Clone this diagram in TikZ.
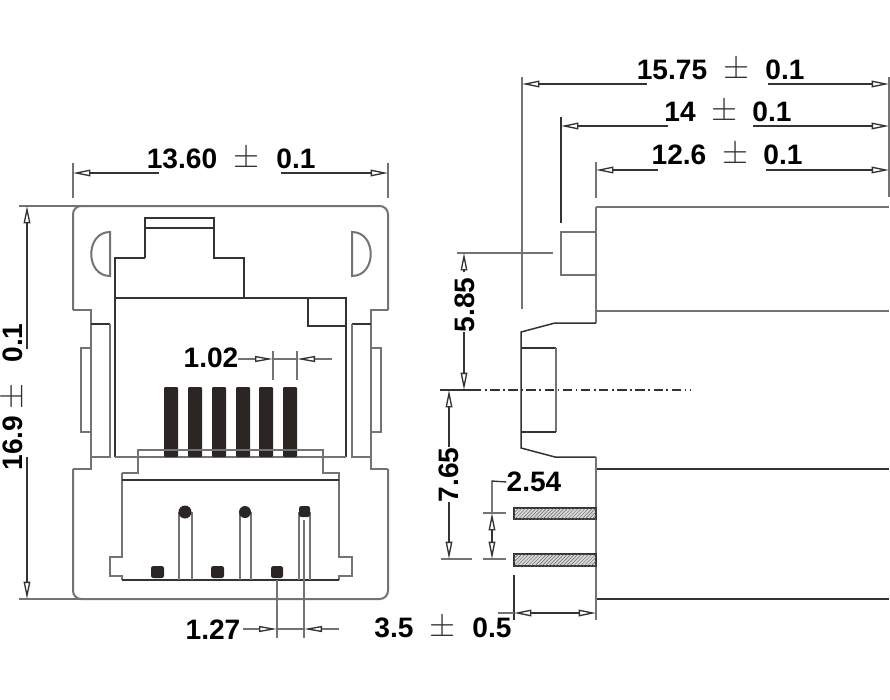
\documentclass[tikz,border=0pt]{standalone}
\usepackage{fontspec}
\setmainfont{Liberation Sans}
\usetikzlibrary{arrows.meta,patterns}
\definecolor{pinblack}{HTML}{2B2523}
\tikzset{
  bodyline/.style={draw=black!55, line width=0.6mm},
  plugline/.style={draw=black!80, line width=0.45mm},
  extline/.style={draw=black!55, line width=0.55mm},
  dimline/.style={draw=black!80, line width=0.4mm},
  dimarrow/.style={dimline, -{Triangle[open,length=5.2mm,width=2mm]}},
  shortarrow/.style={dimline, -{Triangle[open,length=5.4mm,width=1.8mm]}},
  dimtext/.style={inner sep=0pt, text=black, font=\fontsize{24}{24}\selectfont\bfseries},
  pmtext/.style={inner sep=0pt, text=black!80, scale=1.15, font=\fontsize{25}{25}\selectfont},
  pinbar/.style={fill=pinblack, draw=none, rounded corners=1pt},
  pinhatch/.style={fill=gray!30, draw=black!80, line width=0.35mm, postaction={pattern=north east lines, pattern color=black!60}}
}
\begin{document}
\begin{tikzpicture}[x=0.03cm, y=-0.03cm]
  \useasboundingbox (0,0) rectangle (890,700);

  \draw[bodyline, rounded corners=7pt] (73,310) -- (73,206) -- (388,206) -- (388,310);
  \draw[bodyline] (73,310) -- (91,310) -- (91,469) -- (73,469);
  \draw[bodyline] (388,310) -- (371,310) -- (371,469) -- (388,469);
  \draw[bodyline, rounded corners=7pt] (388,469) -- (388,599) -- (73,599) -- (73,469);
  \draw[bodyline] (110,232) .. controls (85,232) and (85,276) .. (110,276) -- cycle;
  \draw[bodyline] (352,232) .. controls (377,232) and (377,276) .. (352,276) -- cycle;

  \draw[plugline] (91,324) -- (110,324);
  \draw[bodyline] (110,324) -- (110,457) -- (91,457);
  \draw[plugline] (352,324) -- (371,324);
  \draw[bodyline] (352,324) -- (352,457) -- (371,457);
  \draw[bodyline, line width=0.4mm] (91,348) -- (81,348) -- (81,432) -- (91,432);
  \draw[bodyline, line width=0.4mm] (371,348) -- (381,348) -- (381,432) -- (371,432);

  \draw[plugline] (145,258) -- (145,218) -- (214,218) -- (214,258) -- (244,258) -- (244,298);
  \draw[plugline] (145,228) -- (214,228);
  \draw[plugline] (145,258) -- (115,258) -- (115,457);
  \draw[plugline] (115,298) -- (346,298) -- (346,457);
  \draw[plugline] (308,298) -- (308,326) -- (346,326);
  \draw[bodyline] (115,457) -- (346,457);

  \fill[pinbar] (164,387) rectangle (178,457);
  \fill[pinbar] (188,387) rectangle (202,457);
  \fill[pinbar] (212,387) rectangle (226,457);
  \fill[pinbar] (236,387) rectangle (250,457);
  \fill[pinbar] (259,387) rectangle (273,457);
  \fill[pinbar] (283,387) rectangle (297,457);

  \draw[bodyline] (122,473) -- (138,473) -- (138,450) -- (323,450) -- (323,473) -- (339,473) -- (339,557) -- (352,557) -- (352,576) -- (339,576) -- (339,580);
  \draw[bodyline] (122,473) -- (122,557) -- (110,557) -- (110,576) -- (122,576) -- (122,580);
  \draw[plugline] (122,480) -- (339,480);
  \draw[plugline] (122,580) -- (339,580);

  \draw[bodyline] (179,512) -- (179,580);
  \draw[bodyline] (192,512) -- (192,580);
  \draw[bodyline] (240,512) -- (240,580);
  \draw[bodyline] (251,512) -- (251,580);
  \draw[bodyline] (299,512) -- (299,580);
  \draw[bodyline] (310,512) -- (310,580);
  \fill[pinblack] (185,512) circle (6.5);
  \fill[pinblack] (245,512) circle (6);
  \fill[pinblack, rounded corners=2pt] (299,506) rectangle (310,517);
  \fill[pinblack, rounded corners=2pt] (151,566) rectangle (164,578);
  \fill[pinblack, rounded corners=2pt] (211,566) rectangle (224,578);
  \fill[pinblack, rounded corners=2pt] (271,566) rectangle (283,578);

  \node[dimtext] (wlabel) at (182,159) {13.60};
  \node[pmtext] (wpm) at (247,159) {$\pm$};
  \node[dimtext] (wtol) at (296,159) {0.1};
  \draw[extline] (73,163) -- (73,198);
  \draw[extline] (388,163) -- (388,198);
  \draw[dimarrow] (159,173) -- (73,173);
  \draw[dimarrow] (281,173) -- (388,173);

  \node[dimtext, rotate=90] (hlabel) at (13,443) {16.9};
  \node[pmtext, rotate=90] (hpm) at (14,396) {$\pm$};
  \node[dimtext, rotate=90] (htol) at (13,343) {0.1};
  \draw[extline] (19,206) -- (95,206);
  \draw[extline] (19,599) -- (95,599);
  \draw[dimarrow] (27,349) -- (27,206);
  \draw[dimarrow] (27,457) -- (27,599);

  \node[dimtext] (pitchtop) at (211,358) {1.02};
  \draw[extline] (273,351) -- (273,380);
  \draw[extline] (297,351) -- (297,380);
  \draw[extline] (238,359) -- (255,359);
  \draw[shortarrow] (255,359) -- (273,359);
  \draw[extline] (273,359) -- (297,359);
  \draw[shortarrow] (315,359) -- (297,359);
  \draw[extline] (315,359) -- (332,359);

  \node[dimtext] (pitchbot) at (213,630) {1.27};
  \draw[extline] (277,580) -- (277,638);
  \draw[extline] (304,520) -- (304,638);
  \draw[extline] (243,629) -- (259,629);
  \draw[shortarrow] (259,629) -- (277,629);
  \draw[extline] (277,629) -- (304,629);
  \draw[shortarrow] (322,629) -- (304,629);
  \draw[extline] (322,629) -- (339,629);

  \draw[bodyline] (596,207) -- (889,207);
  \draw[bodyline] (596,311) -- (889,311);
  \draw[plugline] (596,469) -- (889,469);
  \draw[plugline] (596,599) -- (889,599);
  \draw[bodyline] (596,207) -- (596,323);
  \draw[plugline] (596,323) -- (555,323) -- (521,332) -- (521,448) -- (555,457) -- (596,457);
  \draw[bodyline] (596,457) -- (596,620);
  \draw[plugline] (521,348) -- (556,348);
  \draw[bodyline, line width=0.45mm] (556,348) -- (556,432);
  \draw[plugline] (521,432) -- (556,432);
  \draw[bodyline, line width=0.45mm] (596,232) -- (561,232) -- (561,275) -- (596,275);

  \node[dimtext] (lenlong) at (672,70) {15.75};
  \node[pmtext] (lenlongpm) at (737,70) {$\pm$};
  \node[dimtext] (lenlongtol) at (785,70) {0.1};
  \node[dimtext] (lenmid) at (680,112) {14};
  \node[pmtext] (lenmidpm) at (725,112) {$\pm$};
  \node[dimtext] (lenmidtol) at (772,112) {0.1};
  \node[dimtext] (lenshort) at (679,155) {12.6};
  \node[pmtext] (lenshortpm) at (736,155) {$\pm$};
  \node[dimtext] (lenshorttol) at (783,155) {0.1};
  \draw[extline] (522,77) -- (522,309);
  \draw[plugline] (561,117) -- (561,223);
  \draw[extline] (596,162) -- (596,198);
  \draw[extline, line width=0.7mm] (889,77) -- (889,197);
  \draw[dimarrow] (647,84) -- (522,84);
  \draw[dimarrow] (768,84) -- (889,84);
  \draw[dimarrow] (668,126) -- (561,126);
  \draw[dimarrow] (753,126) -- (889,126);
  \draw[dimarrow] (658,170) -- (596,170);
  \draw[dimarrow] (766,170) -- (889,170);

  \node[dimtext, rotate=90] (offsettop) at (465,305) {5.85};
  \node[dimtext, rotate=90] (offsetbot) at (449,475) {7.65};
  \draw[extline] (457,253) -- (553,253);
  \draw[dimarrow] (464,272) -- (464,253);
  \draw[dimarrow] (464,332) -- (464,390);
  \draw[dimarrow] (449,447) -- (449,390);
  \draw[dimarrow] (449,502) -- (449,559);
  \draw[extline] (441,559) -- (472,559);
  \draw[dimline] (440,390) -- (472,390);
  \draw[dimline, dash pattern=on 8pt off 3pt on 1.5pt off 3pt] (472,390) -- (690,390);

  \filldraw[pinhatch] (514,508) rectangle (596,519);
  \filldraw[pinhatch] (514,554) rectangle (596,566);
  \node[dimtext] (pinpitch) at (534,482) {2.54};
  \draw[dimline] (pinpitch.west) -- (492,481) -- (492,513);
  \draw[dimarrow] (492,532) -- (492,513);
  \draw[dimline] (492,532) -- (492,541);
  \draw[dimarrow] (492,541) -- (492,559);
  \draw[extline] (483,513) -- (506,513);
  \draw[extline] (483,559) -- (506,559);

  \node[dimtext] (reach) at (394,628) {3.5};
  \node[pmtext] (reachpm) at (443,628) {$\pm$};
  \node[dimtext] (reachtol) at (492,628) {0.5};
  \draw[plugline] (514,575) -- (514,620);
  \draw[extline] (498,613) -- (514,613);
  \draw[dimarrow] (550,613) -- (514,613);
  \draw[dimarrow] (550,613) -- (596,613);
\end{tikzpicture}
\end{document}
